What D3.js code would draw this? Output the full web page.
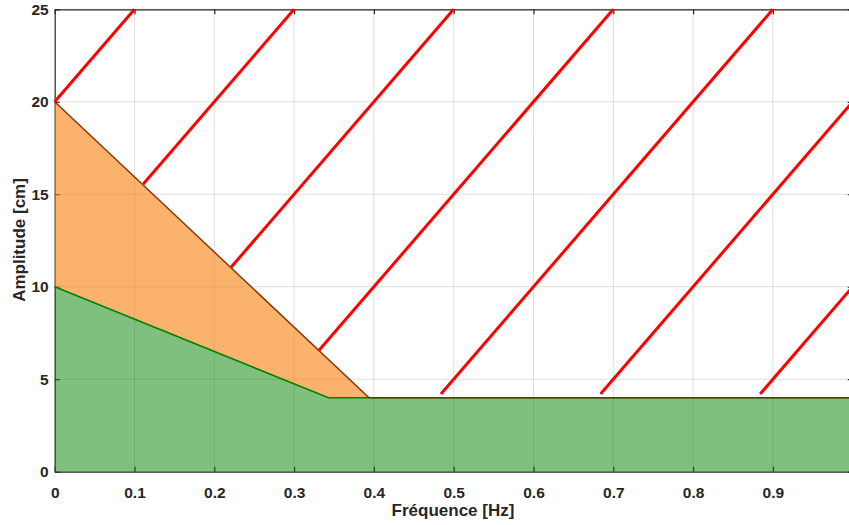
<!DOCTYPE html>
<html>
<head>
<meta charset="utf-8">
<script src="https://cdn.jsdelivr.net/npm/d3@7"></script>
<style>
  html, body { margin: 0; padding: 0; background: #fff; overflow: hidden; }
  svg { display: block; }
  text { font-family: "Liberation Sans", Arial, Helvetica, sans-serif; font-weight: bold; fill: #262626; }
</style>
</head>
<body>
<svg id="chart" width="849" height="525"></svg>
<script>
// ---- data ----
const xTicks = [0, 0.1, 0.2, 0.3, 0.4, 0.5, 0.6, 0.7, 0.8, 0.9, 1];
const yTicks = [0, 5, 10, 15, 20, 25];
// upper limit (orange boundary)
const upperX = [0, 0.394, 1];
const upperY = [20, 4, 4];
// lower limit (green boundary)
const lowerX = [0, 0.343, 1];
const lowerY = [10, 4, 4];
// hatch lines (red) start/end points in data units
const hatchX0 = [0, 0.111, 0.221, 0.331, 0.484, 0.684, 0.884];
const hatchY0 = [20, 15.55, 11.05, 6.55, 4.2, 4.2, 4.2];
const hatchX1 = [0.1, 0.3, 0.5, 0.7, 0.9, 1.0, 1.0];
const hatchY1 = [25, 25, 25, 25, 25, 20, 10];
const xLabel = "Fréquence [Hz]";
const yLabel = "Amplitude [cm]";

// ---- layout ----
const svg = d3.select("#chart");
const x = d3.scaleLinear().domain([0, 1]).range([54.7, 852.7]);
const y = d3.scaleLinear().domain([0, 25]).range([471.7, 9.3]);
const [X0, X1] = x.range();
const [Y0, Y1] = y.range();
const axisColor = "#262626";

// grid
const grid = svg.append("g");
grid.selectAll("line.gx").data(xTicks.slice(1)).join("line")
  .attr("x1", d => x(d)).attr("x2", d => x(d)).attr("y1", Y0).attr("y2", Y1)
  .attr("stroke", "rgba(38,38,38,0.15)").attr("stroke-width", 1);
grid.selectAll("line.gy").data(yTicks.slice(1)).join("line")
  .attr("y1", d => y(d)).attr("y2", d => y(d)).attr("x1", X0).attr("x2", X1)
  .attr("stroke", "rgba(38,38,38,0.15)").attr("stroke-width", 1);

// axes (bottom, left, top, right) with inward ticks
const fmt = d => d3.format("~g")(d);
const axB = d3.axisBottom(x).tickValues(xTicks).tickSizeInner(-5).tickSizeOuter(0).tickPadding(15).tickFormat(fmt);
const axL = d3.axisLeft(y).tickValues(yTicks).tickSizeInner(-5).tickSizeOuter(0).tickPadding(6).tickFormat(fmt);
const axT = d3.axisTop(x).tickValues(xTicks).tickSizeInner(-5).tickSizeOuter(0).tickFormat("");
const axR = d3.axisRight(y).tickValues(yTicks).tickSizeInner(-5).tickSizeOuter(0).tickFormat("");

function styleAxis(g) {
  g.select(".domain").attr("stroke", axisColor).attr("stroke-width", 1.2);
  g.selectAll(".tick line").attr("stroke", axisColor).attr("stroke-width", 1.2);
  g.selectAll(".tick text").attr("font-size", 15.5).attr("font-family", "Liberation Sans, Arial, sans-serif")
    .attr("font-weight", "bold").attr("fill", axisColor);
}
svg.append("g").attr("transform", `translate(0,${Y0})`).call(axB).call(styleAxis);
svg.append("g").attr("transform", `translate(${X0},0)`).call(axL).call(styleAxis);
svg.append("g").attr("transform", `translate(0,${Y1})`).call(axT).call(styleAxis);
svg.append("g").attr("transform", `translate(${X1},0)`).call(axR).call(styleAxis);

// filled regions (semi-transparent, over axes like the original)
const upperPts = upperX.map((v, i) => [v, upperY[i]]);
const lowerPts = lowerX.map((v, i) => [v, lowerY[i]]);
const path = d3.line().x(d => x(d[0])).y(d => y(d[1]));

const greenPoly = lowerPts.concat([[1, 0], [0, 0]]);
svg.append("path").attr("d", path(greenPoly) + "Z")
  .attr("fill", "rgb(0,129,0)").attr("fill-opacity", 0.5).attr("stroke", "none");

const orangePoly = upperPts.concat(lowerPts.slice().reverse());
svg.append("path").attr("d", path(orangePoly) + "Z")
  .attr("fill", "rgb(248,126,10)").attr("fill-opacity", 0.6).attr("stroke", "none");

// boundary lines
svg.append("path").attr("d", path(lowerPts)).attr("fill", "none")
  .attr("stroke", "#008000").attr("stroke-width", 1.6);
svg.append("path").attr("d", path(upperPts)).attr("fill", "none")
  .attr("stroke", "#7a2a00").attr("stroke-width", 1.5).attr("stroke-opacity", 0.9);

// hatch lines
svg.append("g").selectAll("line").data(hatchX0.map((v, i) => i)).join("line")
  .attr("x1", i => x(hatchX0[i])).attr("y1", i => y(hatchY0[i]))
  .attr("x2", i => x(hatchX1[i])).attr("y2", i => y(hatchY1[i]))
  .attr("stroke", "#ff0000").attr("stroke-width", 3).attr("stroke-linecap", "butt");

// axis labels
svg.append("text").attr("x", 453).attr("y", 516).attr("text-anchor", "middle")
  .attr("font-size", 17).text(xLabel);
svg.append("text").attr("transform", `translate(25,240) rotate(-90)`).attr("text-anchor", "middle")
  .attr("font-size", 17).text(yLabel);
</script>
</body>
</html>
